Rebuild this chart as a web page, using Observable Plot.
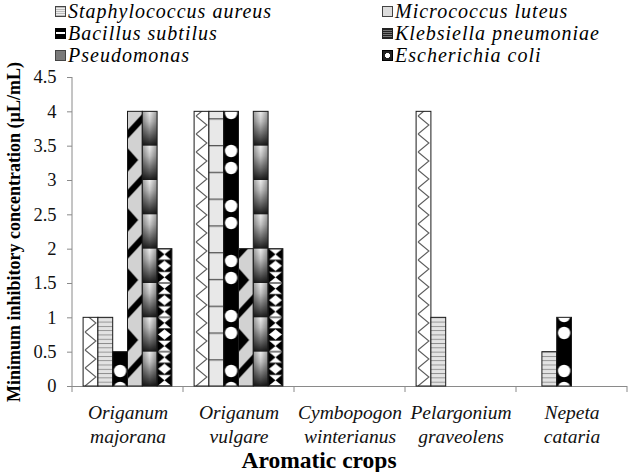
<!DOCTYPE html>
<html><head><meta charset="utf-8">
<script src="https://cdn.jsdelivr.net/npm/d3@7"></script>
<script src="https://cdn.jsdelivr.net/npm/@observablehq/plot@0.6"></script>
<style>
body{margin:0;background:#fff;font-family:"Liberation Serif","Tinos","Times New Roman","DejaVu Serif",serif;}
#wrap{width:629px;height:472px;position:relative;overflow:hidden;background:#fff}
#legend{position:absolute;left:0;top:0;width:629px;height:62px}
.item{position:absolute;display:flex;align-items:center;font-style:italic;font-size:20px;letter-spacing:1px;line-height:22px;white-space:nowrap;color:#000}
.sw{width:9px;height:9px;border:1px solid #444;margin-right:2px;flex:none}
#chart{position:absolute;left:0;top:62px}
#chart svg{overflow:visible}
</style></head><body>
<div id="wrap"><div id="legend"></div><div id="chart"></div></div>
<script>
// ---- data ----
const crops = ["Origanum majorana", "Origanum vulgare", "Cymbopogon winterianus", "Pelargonium graveolens", "Nepeta cataria"];
const cropLines = ["Origanum\nmajorana", "Origanum\nvulgare", "Cymbopogon\nwinterianus", "Pelargonium\ngraveolens", "Nepeta\ncataria"];
const organisms = ["Staphylococcus aureus", "Micrococcus luteus", "Bacillus subtilus", "Klebsiella pneumoniae", "Pseudomonas", "Escherichia coli"];
const staphylococcusAureus = [1, 4, 0, 4, 0];
const micrococcusLuteus = [1, 4, 0, 1, 0.5];
const bacillusSubtilus = [0.5, 4, 0, 0, 1];
const klebsiellaPneumoniae = [4, 2, 0, 0, 0];
const pseudomonas = [4, 4, 0, 0, 0];
const escherichiaColi = [2, 2, 0, 0, 0];
const yTicks = [0, 0.5, 1, 1.5, 2, 2.5, 3, 3.5, 4, 4.5];
const yTitle = "Minimum inhibitory concentration (µL/mL)";
const xTitle = "Aromatic crops";

const seriesValues = [staphylococcusAureus, micrococcusLuteus, bacillusSubtilus, klebsiellaPneumoniae, pseudomonas, escherichiaColi];
const rows = [];
organisms.forEach((org, j) => crops.forEach((crop, i) => {
  const v = seriesValues[j][i];
  if (v > 0) rows.push({crop, org, value: v,
    key: (i === 1 && j === 1) ? "Micrococcus luteus alt" : org});
}));
const fillKeys = [...organisms, "Micrococcus luteus alt"];
const fillUrls = fillKeys.map((_, k) => `url(#pat${k})`);
const FONT = '"Liberation Serif","Tinos","Times New Roman","DejaVu Serif",serif';

// ---- legend ----
const swStyles = [
  "background:repeating-linear-gradient(#bbb 0 1px,#eee 1px 2px)",
  "background:#ddd",
  "background:linear-gradient(#000 0 30%,#fff 30% 60%,#000 60%);border-color:#000",
  "background:repeating-linear-gradient(#222 0 1px,#777 1px 2px);border-color:#222",
  "background:#7a7a7a",
  "background:radial-gradient(circle,#fff 0 35%,#222 40%);border-color:#000"
];
const legend = document.getElementById("legend");
const rowCenters = [11, 33, 55];
const colLeft = [55, 382];
organisms.forEach((org, j) => {
  const d = document.createElement("div");
  d.className = "item";
  d.style.left = colLeft[j % 2] + "px";
  d.style.top = (rowCenters[Math.floor(j / 2)] - 11) + "px";
  const s = document.createElement("span");
  s.className = "sw"; s.style.cssText += swStyles[j];
  d.appendChild(s);
  d.appendChild(document.createTextNode(org));
  legend.appendChild(d);
});

// ---- chart ----
const W = 629, H = 410;
const plot = Plot.plot({
  width: W, height: H,
  marginLeft: 70, marginRight: 1, marginTop: 15, marginBottom: 86,
  style: {fontFamily: FONT, background: "#fff", color: "#000"},
  fx: {domain: crops, padding: 0, paddingInner: 0, paddingOuter: 0, label: null},
  x: {domain: organisms, paddingInner: 0, paddingOuter: 0.75, axis: null, round: false},
  y: {domain: [0, 4.5], label: null},
  color: {type: "ordinal", domain: fillKeys, range: fillUrls},
  marks: [
    Plot.ruleY([0], {stroke: "#8a8a8a", strokeWidth: 1}),
    Plot.barY(rows, {fx: "crop", x: "org", y: "value", fill: "key", stroke: "#1a1a1a", strokeWidth: 1}),
    Plot.axisY({ticks: yTicks, tickSize: 5, tickFormat: () => "", stroke: "#8a8a8a", label: null}),
    Plot.axisY({ticks: yTicks, tickSize: 0, tickPadding: 16, tickFormat: d => String(d), fontSize: 18.5, fill: "#111", label: null}),
    Plot.axisY({ticks: [], label: yTitle, labelAnchor: "center", labelOffset: 65, labelArrow: "none", fontSize: 18, letterSpacing: 0.5, fontWeight: "bold"}),
    Plot.axisFx({anchor: "bottom", tickSize: 0, tickPadding: 16, fontSize: 19.5, fontStyle: "italic", lineHeight: 1.2, fill: "#111",
      tickFormat: d => cropLines[crops.indexOf(d)], label: null}),
    Plot.text([xTitle], {fx: () => crops[2], frameAnchor: "bottom", lineAnchor: "bottom", dy: 81.5, dx: -31,
      fontSize: 23.5, fontWeight: "bold", fill: "#000", text: d => d})
  ]
});
document.getElementById("chart").appendChild(plot);

// ---- axis line and category boundary ticks (from Plot scales) ----
const svg = d3.select(plot);
const ys = plot.scale("y"), fxs = plot.scale("fx");
const y0 = ys.apply(0), yTop = ys.apply(4.5), unit = ys.apply(0) - ys.apply(0.5);
const gAx = svg.append("g").attr("stroke", "#8a8a8a").attr("stroke-width", 1);
const x0 = fxs.apply(crops[0]);
gAx.append("line").attr("x1", x0).attr("x2", x0).attr("y1", yTop).attr("y2", y0 + 6);
crops.forEach(c => {
  const xb = fxs.apply(c) + fxs.bandwidth;
  gAx.append("line").attr("x1", xb).attr("x2", xb).attr("y1", y0).attr("y2", y0 + 6);
});

// ---- fill patterns aligned with each series' bars ----
const defs = svg.insert("defs", ":first-child");
const grad = defs.append("linearGradient").attr("id", "gradPs").attr("x1", 0).attr("y1", 0).attr("x2", 0).attr("y2", 1);
[[0, "#efefef"], [0.3, "#c4c4c4"], [0.75, "#5a5a5a"], [1, "#1c1c1c"]].forEach(([o, c]) => grad.append("stop").attr("offset", o).attr("stop-color", c));
const gradH = defs.append("linearGradient").attr("id", "gradPsH").attr("x1", 0).attr("y1", 0).attr("x2", 1).attr("y2", 0);
[[0, "#000", 0.35], [0.5, "#000", 0], [1, "#000", 0.35]].forEach(([o, c, a]) => gradH.append("stop").attr("offset", o).attr("stop-color", c).attr("stop-opacity", a));

const rects = svg.selectAll("rect").nodes();
fillUrls.forEach((url, k) => {
  const r = rects.find(n => n.getAttribute("fill") === url);
  if (!r) return;
  const bx = +r.getAttribute("x"), bw = +r.getAttribute("width");
  const by = +r.getAttribute("y") + +r.getAttribute("height");
  const heights = [18, unit / 8, 55, 60, unit, unit, unit * 0.78];
  const h = heights[k];
  const p = defs.append("pattern").attr("id", `pat${k}`).attr("patternUnits", "userSpaceOnUse")
    .attr("x", bx).attr("y", by).attr("width", bw).attr("height", h);
  const w = bw;
  if (k === 0) {
    p.append("rect").attr("width", w).attr("height", h).attr("fill", "#fff");
    p.append("path").attr("d", `M2,0 L${w - 2},${h / 2} L2,${h}`).attr("fill", "none").attr("stroke", "#5a5a5a").attr("stroke-width", 1.1);
  } else if (k === 1) {
    p.append("rect").attr("width", w).attr("height", h).attr("fill", "#e3e3e3");
    p.append("rect").attr("width", w).attr("height", 0.9).attr("fill", "#8c8c8c");
  } else if (k === 2) {
    p.append("rect").attr("width", w).attr("height", h).attr("fill", "#000");
    [2, 57, 40].forEach(cy => p.append("circle").attr("cx", w / 2).attr("cy", cy).attr("r", 6.2).attr("fill", "#fff"));
  } else if (k === 3) {
    p.append("rect").attr("width", w).attr("height", h).attr("fill", "#d2d2d2");
    p.append("polygon").attr("points", `0,2 ${w * 0.72},14 0,26`).attr("fill", "#000");
    p.append("polygon").attr("points", `0,44 ${w},28 ${w},37 0,53`).attr("fill", "#000");
  } else if (k === 4) {
    p.append("rect").attr("width", w).attr("height", h).attr("fill", "url(#gradPs)");
    p.append("rect").attr("width", w).attr("height", h).attr("fill", "url(#gradPsH)");
  } else if (k === 5) {
    p.append("rect").attr("width", w).attr("height", h).attr("fill", "#000");
    const s = h / 3;
    const bow = t => {
      p.append("polygon").attr("points", `1,${t + 0.5} ${w - 1},${t + 0.5} ${w / 2},${t + s / 2}`).attr("fill", "#fff");
      p.append("polygon").attr("points", `1,${t + s - 0.5} ${w - 1},${t + s - 0.5} ${w / 2},${t + s / 2}`).attr("fill", "#fff");
    };
    bow(0);
    p.append("polygon").attr("points", `${w / 2},${s + 0.5} ${w - 1},${1.5 * s} ${w / 2},${2 * s - 0.5} 1,${1.5 * s}`).attr("fill", "#fff");
    bow(2 * s);
  } else if (k === 6) {
    p.append("rect").attr("width", w).attr("height", h).attr("fill", "#e8e8e8");
    p.append("rect").attr("width", w).attr("height", 1.3).attr("fill", "#555");
  }
});
</script>
</body></html>
